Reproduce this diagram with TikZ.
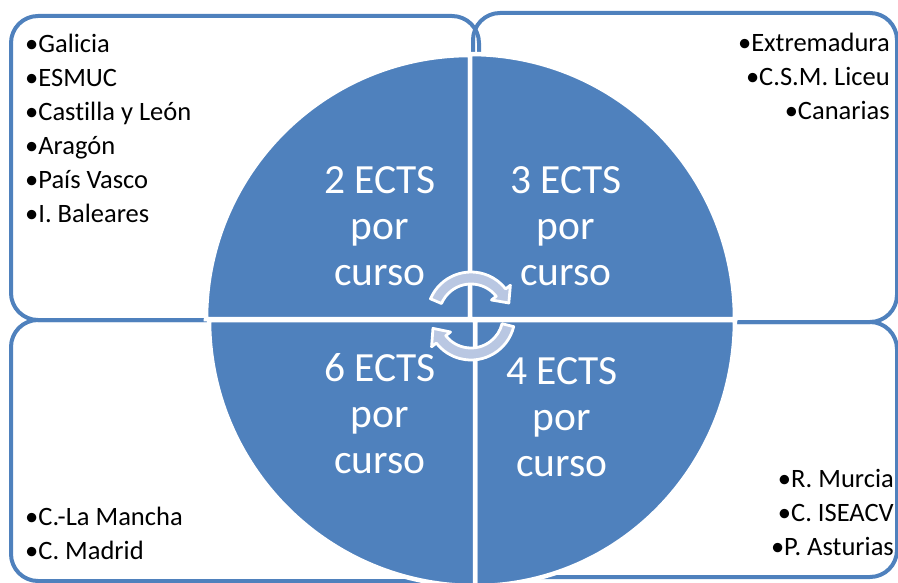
\documentclass[tikz,border=0pt]{standalone}
\usepackage{fontspec}
\setmainfont{Carlito}[Ligatures=NoCommon]
\usetikzlibrary{calc}
\definecolor{acc}{HTML}{4F81BD}
\definecolor{arw}{HTML}{B9C7E2}
\tikzset{
  cbox/.style={draw=acc,line width=4pt,rounded corners=27pt},
  pie/.style={fill=acc,draw=white,line width=4.5pt},
  cyc/.style={fill=arw,draw=white,line width=2.8pt,line join=round},
  qlab/.style={text=white,align=center,inner sep=0pt,font=\fontsize{41.5}{46}\selectfont},
  llist/.style={inner sep=0pt,anchor=north west,align=left,font=\fontsize{26.5}{34}\selectfont},
  rlist/.style={llist,anchor=north east,align=right},
}

\begin{document}
\begin{tikzpicture}[x=1pt,y=-1pt]
  \useasboundingbox (0,0) rectangle (898,583);
  % outer boxes
  \draw[cbox] (11,16) rectangle (479,320);
  \draw[cbox] (473,13) rectangle (897,322);
  \draw[cbox] (11,320) rectangle (479,581);
  \draw[cbox] (473,322) rectangle (897,577);
  % quarter pies
  \draw[pie] (470,319) -- ++(180:264) arc[start angle=180,end angle=270,radius=264] -- cycle;
  \draw[pie] (470,319) -- ++(270:265) arc[start angle=270,end angle=360,radius=265] -- cycle;
  \draw[pie] (475,320) -- ++(0:260) arc[start angle=0,end angle=90,x radius=260,y radius=266] -- cycle;
  \draw[pie] (475,320) -- ++(90:266) arc[start angle=90,end angle=180,radius=266] -- cycle;
  % cycle arrows
  \coordinate (cc) at (471,316);
  \draw[cyc] ($(cc)+(203:44)$) arc[start angle=203,end angle=322,radius=44]
    -- ($(cc)+(322:50)$) -- ($(cc)+(341:40)$) -- ($(cc)+(322:26)$)
    -- ($(cc)+(322:32)$) arc[start angle=322,end angle=203,radius=32] -- cycle;
  \draw[cyc] ($(cc)+(14:44)$) arc[start angle=14,end angle=142,radius=44]
    -- ($(cc)+(142:50)$) -- ($(cc)+(162:40)$) -- ($(cc)+(142:26)$)
    -- ($(cc)+(142:32)$) arc[start angle=142,end angle=14,radius=32] -- cycle;
  % labels
  \node[qlab] (q2) at (380,226) {2 ECTS\\por\\curso};
  \node[qlab] (q3) at (566,226) {3 ECTS\\por\\curso};
  \node[qlab] (q6) at (380,414) {6 ECTS\\por\\curso};
  \node[qlab] (q4) at (562,417) {4 ECTS\\por\\curso};
  \node[llist] (ltl) at (25,34) {•Galicia\\•ESMUC\\•Castilla y León\\•Aragón\\•País Vasco\\•I. Baleares};
  \node[rlist] (ltr) at (890,33) {•Extremadura\\•C.S.M. Liceu\\•Canarias};
  \node[llist] (lbl) at (25,507) {•C.-La Mancha\\•C. Madrid};
  \node[rlist] (lbr) at (894,469) {•R. Murcia\\•C. ISEACV\\•P. Asturias};
\end{tikzpicture}
\end{document}
